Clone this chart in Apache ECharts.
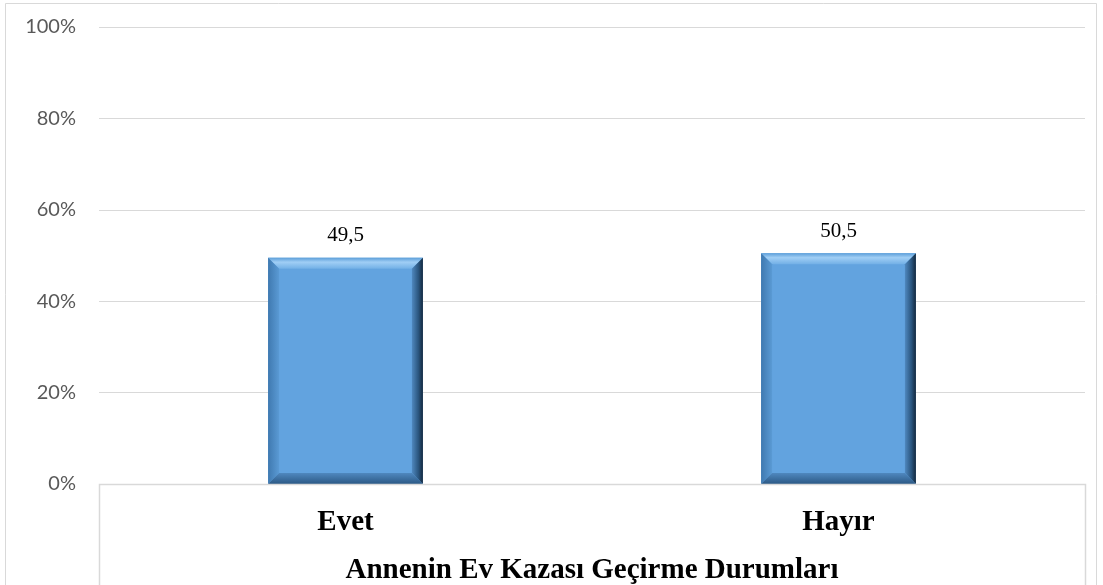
<!DOCTYPE html>
<html><head><meta charset="utf-8">
<script src="https://cdn.jsdelivr.net/npm/echarts@6/dist/echarts.min.js"></script>
<style>html,body{margin:0;padding:0;background:#fff}#c{width:1103px;height:585px}</style>
</head><body><div id="c"></div>
<script>
const categories = ['Evet', 'Hayır'];
const values = [49.5, 50.5];
const valueLabels = ['49,5', '50,5'];
const yTicks = [0, 20, 40, 60, 80, 100];
const axisTitle = 'Annenin Ev Kazası Geçirme Durumları';

const chart = echarts.init(document.getElementById('c'), null, {renderer: 'canvas'});
const serif = '"Liberation Serif", "DejaVu Serif", serif';

function renderBar(params, api) {
  const cat = api.value(0), v = api.value(1);
  const top = api.coord([cat, v]);
  const base = api.coord([cat, 0]);
  const w = api.size([1, 0])[0] * 0.314;
  const x0 = top[0] - w / 2, x1 = top[0] + w / 2, y0 = top[1], y1 = base[1];
  const b = 11;
  return {
    type: 'group',
    children: [
      {type: 'rect', shape: {x: x0, y: y0, width: w, height: y1 - y0}, style: {fill: '#62a3df'}},
      {type: 'polygon', shape: {points: [[x0, y0], [x1, y0], [x1 - b, y0 + b], [x0 + b, y0 + b]]},
        style: {fill: new echarts.graphic.LinearGradient(0, 0, 0, 1, [{offset: 0, color: '#5d9fd9'}, {offset: 0.4, color: '#a0cef5'}, {offset: 1, color: '#72b0e6'}])}},
      {type: 'polygon', shape: {points: [[x0, y0], [x0 + b, y0 + b], [x0 + b, y1 - b], [x0, y1]]},
        style: {fill: new echarts.graphic.LinearGradient(0, 0, 1, 0, [{offset: 0, color: '#3f79b0'}, {offset: 1, color: '#5a9ad4'}])}},
      {type: 'polygon', shape: {points: [[x1, y0], [x1, y1], [x1 - b, y1 - b], [x1 - b, y0 + b]]},
        style: {fill: new echarts.graphic.LinearGradient(0, 0, 1, 0, [{offset: 0, color: '#4f88bf'}, {offset: 0.6, color: '#2a557e'}, {offset: 1, color: '#14283d'}])}},
      {type: 'polygon', shape: {points: [[x0, y1], [x1, y1], [x1 - b, y1 - b], [x0 + b, y1 - b]]},
        style: {fill: new echarts.graphic.LinearGradient(0, 0, 0, 1, [{offset: 0, color: '#4f88bf'}, {offset: 1, color: '#2c5985'}])}},
      {type: 'text', x: top[0], y: y0 - 22,
        style: {text: valueLabels[params.dataIndex], font: '21px ' + serif, fill: '#000', align: 'center', verticalAlign: 'middle'}}
    ]
  };
}

chart.setOption({
  animation: false,
  backgroundColor: '#fff',
  grid: {left: 99, right: 18, top: 27, bottom: 101, outerBoundsMode: 'none', containLabel: false},
  xAxis: {
    type: 'category', data: categories,
    axisLine: {show: false}, axisTick: {show: false},
    axisLabel: {margin: 24, fontFamily: serif, fontWeight: 'bold', fontSize: 29, color: '#000'},
    name: axisTitle, nameLocation: 'middle', nameGap: 72,
    nameTextStyle: {fontFamily: serif, fontWeight: 'bold', fontSize: 29, color: '#000', verticalAlign: 'top'}
  },
  yAxis: {
    type: 'value', min: 0, max: 100, interval: 20,
    axisLabel: {formatter: '{value}%', fontFamily: '"Lato", "Liberation Sans", sans-serif', fontSize: 20, color: '#595959', margin: 23},
    splitLine: {lineStyle: {color: '#d9d9d9', width: 1}},
    axisLine: {show: false}, axisTick: {show: false}
  },
  series: [{
    type: 'custom', renderItem: renderBar,
    data: categories.map((c, i) => [i, values[i]]),
    encode: {x: 0, y: 1}
  }],
  graphic: [
    {type: 'rect', shape: {x: 5.5, y: 3.5, width: 1091, height: 590}, style: {fill: null, stroke: '#d9d9d9', lineWidth: 1}, silent: true},
    {type: 'polyline', shape: {points: [[99.5, 590], [99.5, 484.5], [1085.5, 484.5], [1085.5, 590]]}, style: {fill: null, stroke: '#d9d9d9', lineWidth: 1.5}, silent: true, z: 10}
  ]
});
</script></body></html>
